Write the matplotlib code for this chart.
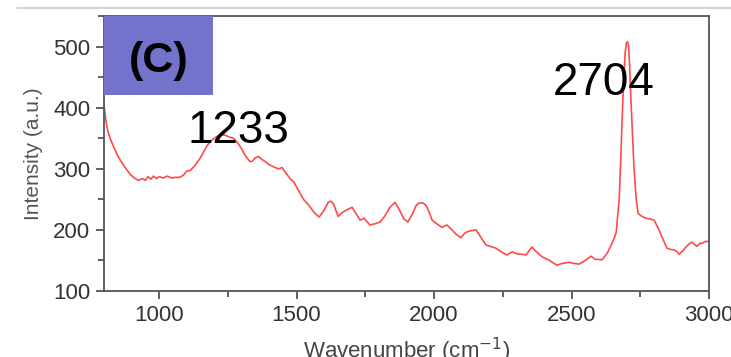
import matplotlib
matplotlib.use("Agg")
import matplotlib.pyplot as plt
from matplotlib.patches import Rectangle
from matplotlib.lines import Line2D
from matplotlib.ticker import MultipleLocator

plt.rcParams['font.family'] = ['Liberation Sans', 'DejaVu Sans']

# Raman spectrum
wavenumber = [800, 805, 812, 822, 835, 848, 862, 880, 895, 910, 925, 940, 950, 960, 970, 980, 990,
              1000, 1015, 1030, 1045, 1060, 1076, 1090, 1100, 1113, 1130, 1149, 1165, 1175,
              1190, 1204, 1215, 1225, 1240, 1255, 1270, 1285, 1300, 1313, 1330, 1338, 1350,
              1362, 1375, 1385, 1400, 1422, 1435, 1447, 1460, 1476, 1491, 1505, 1527, 1545,
              1565, 1582, 1600, 1615, 1625, 1635, 1651, 1665, 1680, 1702, 1720, 1731, 1745,
              1767, 1785, 1804, 1820, 1840, 1858, 1875, 1890, 1905, 1920, 1935, 1945, 1960,
              1971, 1985, 1993, 2010, 2029, 2047, 2065, 2080, 2098, 2112, 2127, 2140, 2153,
              2170, 2189, 2205, 2225, 2245, 2265, 2284, 2300, 2320, 2335, 2346, 2356, 2370,
              2393, 2420, 2447, 2465, 2491, 2510, 2527, 2550, 2571, 2585, 2611, 2630, 2647,
              2662, 2673, 2680, 2684, 2690, 2695, 2699, 2703, 2707, 2711, 2716, 2722, 2727,
              2735, 2742, 2756, 2771, 2785, 2800, 2818, 2832, 2847, 2860, 2873, 2885, 2891,
              2905, 2916, 2930, 2938, 2947, 2956, 2966, 2975, 2986, 3000]
intensity = [404, 385, 365, 350, 336, 323, 312, 300, 291, 285, 281, 284, 281, 287, 283, 288, 284,
             287, 285, 288, 285, 286, 286, 290, 296, 297, 305, 317, 330, 338,
             346, 351, 354, 356, 355, 352, 350, 343, 333, 322, 312, 312, 318,
             320, 315, 312, 307, 302, 300, 302, 294, 284, 278, 266, 249, 240,
             228, 221, 232, 245, 247, 242, 222, 228, 232, 237, 224, 216, 219,
             208, 210, 213, 222, 237, 245, 232, 218, 213, 225, 240, 244, 244,
             240, 226, 216, 210, 204, 208, 200, 193, 187, 195, 198, 199, 200,
             188, 175, 173, 170, 164, 159, 164, 161, 160, 159, 166, 172, 165,
             156, 150, 142, 145, 147, 145, 144, 150, 157, 152, 151, 162, 178,
             195, 249, 330, 384, 450, 490, 505, 508, 502, 470, 412, 350, 302,
             250, 227, 222, 219, 218, 216, 200, 185, 170, 168, 167, 164, 160,
             166, 172, 178, 180, 176, 173, 178, 178, 181, 181]

peak_labels = ["1233", "2704"]
peak_x = [1105, 2433]
peak_y = [342, 420]

fig = plt.figure(figsize=(7.31, 3.57), dpi=100)
ax = fig.add_axes([0.1423, 0.1849, 0.8277, 0.7703])

ax.plot(wavenumber, intensity, color='#ff4a4a', lw=1.2)
ax.set_xlim(800, 3000)
ax.set_ylim(100, 550)

ax.xaxis.set_major_locator(MultipleLocator(500))
ax.xaxis.set_minor_locator(MultipleLocator(250))
ax.yaxis.set_major_locator(MultipleLocator(100))
ax.yaxis.set_minor_locator(MultipleLocator(50))
ax.tick_params(which='both', direction='out', color='#444444', width=1.2,
               labelsize=16, labelcolor='#333333', pad=4)
ax.tick_params(which='major', length=6)
ax.tick_params(which='minor', length=4)
for s in ax.spines.values():
    s.set_color('#555555')
    s.set_linewidth(1.3)

ax.set_xlabel("Wavenumber (cm$^{-1}$)", fontsize=16, color='#444444', labelpad=7)
ax.set_ylabel("Intensity (a.u.)", fontsize=15, color='#555555', labelpad=7)

# panel tag box
ax.add_patch(Rectangle((0, 0.713), 0.18, 0.287, transform=ax.transAxes,
                       facecolor='#7373cc', edgecolor='none', zorder=3))
ax.text(0.09, 0.835, "(C)", transform=ax.transAxes, fontsize=31, fontweight='bold',
        ha='center', va='center', color='black', zorder=4)

for lab, px, py in zip(peak_labels, peak_x, peak_y):
    ax.text(px, py, lab, fontsize=33, color='black', ha='left', va='baseline', zorder=4)

# thin grey rule above the chart
fig.add_artist(Line2D([0.023, 1.0], [0.978, 0.978], color='#cccccc', lw=1.2))

fig.savefig("out.png", dpi=100)
